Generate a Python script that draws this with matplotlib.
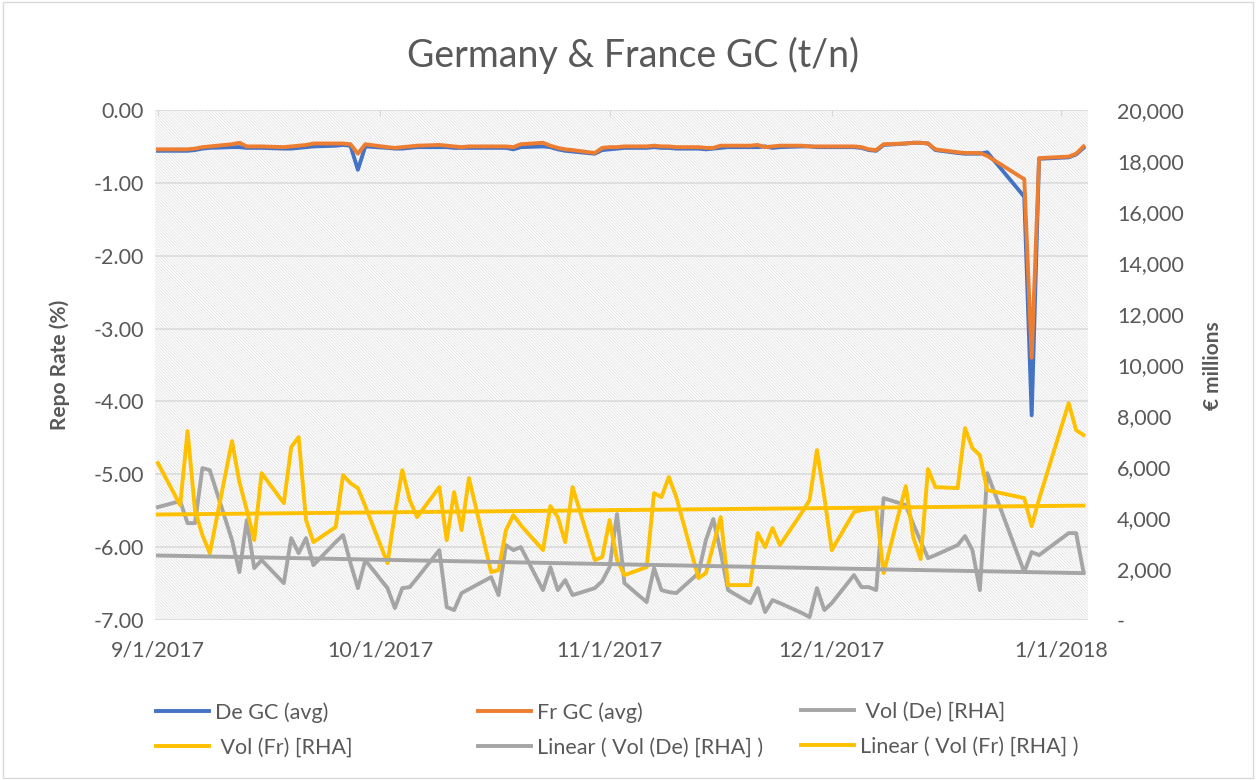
import numpy as np
import pandas as pd
import matplotlib
matplotlib.use("Agg")
import matplotlib.pyplot as plt
import matplotlib.dates as mdates
from matplotlib.patches import Rectangle
from matplotlib.lines import Line2D

plt.rcParams['font.family'] = ['Lato', 'DejaVu Sans']
plt.rcParams['hatch.linewidth'] = 0.6

# business days, holidays with no fixing left out
dates = pd.bdate_range('2017-09-01', '2018-01-04').drop(
    pd.to_datetime(['2017-12-25', '2017-12-26', '2018-01-01']))

de_gc = [-0.56, -0.56, -0.56, -0.55, -0.53, -0.52, -0.51, -0.51, -0.52, -0.52, -0.52,
         -0.53, -0.53, -0.52, -0.51, -0.50, -0.49, -0.48, -0.49, -0.82, -0.50,
         -0.52, -0.53, -0.53, -0.52, -0.51, -0.51, -0.51, -0.52, -0.52, -0.52, -0.52,
         -0.52, -0.52, -0.54, -0.51, -0.50, -0.51, -0.54, -0.56, -0.57, -0.60, -0.55,
         -0.54, -0.53, -0.52, -0.52, -0.51, -0.52, -0.52, -0.53, -0.53, -0.54, -0.53,
         -0.52, -0.51, -0.51, -0.51, -0.50, -0.52, -0.51, -0.50, -0.50, -0.51, -0.51,
         -0.51, -0.51, -0.52, -0.55, -0.56, -0.48, -0.46, -0.45, -0.45, -0.46, -0.55,
         -0.59, -0.60, -0.60, -0.60, -0.58, -1.19, -4.19, -0.67,
         -0.65, -0.61, -0.52]

fr_gc = [-0.54, -0.54, -0.54, -0.53, -0.51, -0.50, -0.47, -0.45, -0.50, -0.50, -0.50,
         -0.51, -0.50, -0.49, -0.48, -0.46, -0.46, -0.46, -0.47, -0.60, -0.47,
         -0.51, -0.52, -0.51, -0.50, -0.49, -0.48, -0.49, -0.50, -0.51, -0.50, -0.50,
         -0.50, -0.50, -0.51, -0.47, -0.45, -0.49, -0.52, -0.54, -0.55, -0.59, -0.52,
         -0.51, -0.51, -0.50, -0.50, -0.49, -0.50, -0.50, -0.51, -0.51, -0.52, -0.52,
         -0.49, -0.49, -0.49, -0.48, -0.51, -0.50, -0.49, -0.49, -0.50, -0.50, -0.50,
         -0.50, -0.50, -0.51, -0.54, -0.55, -0.47, -0.46, -0.45, -0.45, -0.46, -0.54,
         -0.58, -0.59, -0.59, -0.59, -0.63, -0.95, -3.40, -0.66,
         -0.64, -0.60, -0.50]

vol_de = [4430, 4665, 3802, 3802, 5958, 5880, 3136, 1882, 3920, 2038, 2352,
          1450, 3214, 2626, 3214, 2156, 3058, 3332, 2234, 1254, 2352,
          1254, 470, 1254, 1294, 1646, 2744, 510, 392, 1058, 1215, 1686,
          980, 2940, 2744, 2862, 1176, 2078, 1176, 1568, 980, 1254, 1529,
          2078, 4155, 1450, 706, 2038, 1176, 1098, 1058, 1842, 3136, 3959,
          2666, 1176, 666, 1254, 314, 784, 666, 274, 118, 1254, 392,
          666, 1764, 1294, 1294, 1176, 4782, 4508, 3763, 3097, 2430, 2548,
          2940, 3293, 2744, 1176, 5762, 1882, 2666, 2548,
          3410, 3410, 1882]

vol_fr = [6154, 4508, 7409, 4312, 3332, 2626, 7017, 5410, 4312, 3136, 5762,
          4586, 6782, 7174, 3920, 3058, 3646, 5684, 5370, 5174, 4469,
          2234, 4194, 5880, 4704, 4038, 5214, 3136, 5018, 3528, 5566, 1882,
          1960, 3528, 4116, 3724, 2744, 4469, 4038, 3058, 5214, 2352, 2470,
          3920, 2352, 1764, 2078, 4978, 4822, 5606, 4822, 1646, 1842, 2940,
          4038, 1372, 1372, 3410, 2862, 3606, 2940, 4234, 4704, 6664, 4822,
          2744, 4234, 4312, 4351, 4390, 1842, 5253, 3254, 2391, 5919, 5214,
          5174, 7526, 6742, 6468, 5096, 4782, 3685, 4743,
          8506, 7448, 7252]

tick_dates = ['2017-09-01', '2017-10-01', '2017-11-01', '2017-12-01', '2018-01-01']
tick_labels = ['9/1/2017', '10/1/2017', '11/1/2017', '12/1/2017', '1/1/2018']

BLUE, ORANGE, GRAY, GOLD = '#4472C4', '#ED7D31', '#A5A5A5', '#FFC000'
TXT = '#595959'
LW = 2.8
FS = 15.5

fig = plt.figure(figsize=(12.56, 7.8), dpi=100)
fig.patches.append(Rectangle((0.002, 0.002), 0.996, 0.996, transform=fig.transFigure,
                             fill=False, edgecolor='#d9d9d9', linewidth=1))
ax = fig.add_axes([0.1234, 0.205, 0.7428, 0.654])
ax2 = ax.twinx()

# hatched plot area
ax.patch.set_visible(False)
ax.add_patch(Rectangle((0, 0), 1, 1, transform=ax.transAxes, facecolor='white',
                       edgecolor='#e2e2e2', linewidth=0, hatch='\\' * 11, zorder=0))

ax.grid(axis='y', color='#d9d9d9', linewidth=1.1, zorder=1)
ax.set_axisbelow(True)

x = mdates.date2num(dates)
ax.plot(x, de_gc, color=BLUE, lw=LW, solid_joinstyle='round', zorder=3)
ax.plot(x, fr_gc, color=ORANGE, lw=LW, solid_joinstyle='round', zorder=3)

ax2.plot(x, vol_de, color=GRAY, lw=LW, solid_joinstyle='round')
ax2.plot(x, vol_fr, color=GOLD, lw=LW, solid_joinstyle='round')
# linear trendlines as Excel computes them
for vals, c in [(vol_de, GRAY), (vol_fr, GOLD)]:
    k, b = np.polyfit(x, vals, 1)
    ax2.plot(x, k * x + b, color=c, lw=LW)

ax.set_ylim(-7, 0)
ax.set_yticks(np.arange(-7, 0.01, 1))
ax.set_yticklabels([f'{v:.2f}' for v in np.arange(-7, 0.01, 1)])
ax2.set_ylim(0, 20000)
ax2.set_yticks(np.arange(0, 20001, 2000))
ax2.set_yticklabels(['-' if v == 0 else f'{v:,}' for v in range(0, 20001, 2000)])

ax.set_xlim(x[0] - 0.4, x[-1] + 0.6)
ax.set_xticks(mdates.date2num(pd.to_datetime(tick_dates)))
ax.set_xticklabels(tick_labels)

for a in (ax, ax2):
    for s in a.spines.values():
        s.set_visible(False)
ax.tick_params(axis='x', top=True, bottom=False, labeltop=False, labelbottom=True,
               direction='in', length=4, color='#d9d9d9', pad=15,
               labelsize=FS, labelcolor=TXT)
ax.tick_params(axis='y', length=0, pad=8, labelsize=FS, labelcolor=TXT)
ax2.tick_params(axis='y', length=0, pad=21, labelsize=FS, labelcolor=TXT)
for t in ax2.get_yticklabels():
    t.set_horizontalalignment('left')

fig.text(633 / 1256, 1 - 55 / 780, 'Germany & France GC (t/n)', ha='center', va='center',
         fontsize=27, color=TXT)
fig.text(60 / 1256, 1 - 365 / 780, 'Repo Rate (%)', rotation=90, ha='center',
         va='center', fontsize=15, fontweight='bold', color=TXT)
fig.text(1213 / 1256, 1 - 366 / 780, '€ millions', rotation=90, ha='center',
         va='center', fontsize=15, fontweight='bold', color=TXT)

# legend: three equal columns as in Excel
cols = [[('De GC (avg)', BLUE), (' Vol (Fr) [RHA]', GOLD)],
        [('Fr GC (avg)', ORANGE), ('Linear ( Vol (De) [RHA] )', GRAY)],
        [(' Vol (De) [RHA]', GRAY), ('Linear ( Vol (Fr) [RHA] )', GOLD)]]
for xpix, entries in zip([156, 478, 801], cols):
    handles = [Line2D([], [], color=c, lw=LW) for _, c in entries]
    fig.legend(handles, [l for l, _ in entries], loc='upper left',
               bbox_to_anchor=(xpix / 1256, 1 - 702 / 780), frameon=False,
               fontsize=FS, labelcolor=TXT, handlelength=2.45, handletextpad=0.28,
               borderpad=0, borderaxespad=0, labelspacing=0.68)

fig.savefig('out.png', dpi=100)
